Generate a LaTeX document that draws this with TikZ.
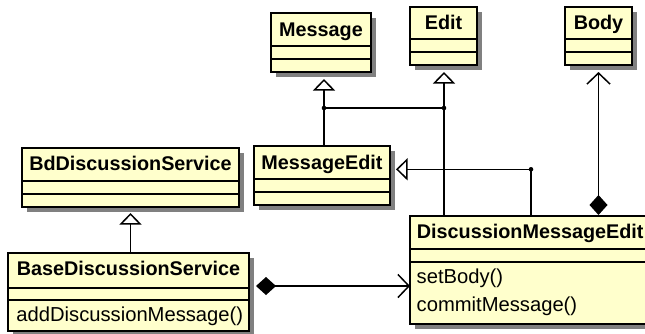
\documentclass[tikz,border=0pt]{standalone}
\usepackage{fontspec}
\setmainfont{Liberation Sans}
\usetikzlibrary{arrows.meta,shadows}
\definecolor{umlfill}{RGB}{255,255,204}
\definecolor{umlshadow}{RGB}{128,128,128}
\tikzset{
  classfill/.style={fill=umlfill, inner sep=0pt, outer sep=0pt,
    drop shadow={shadow xshift=5pt, shadow yshift=-5pt, fill=umlshadow, opacity=1}},
  classbox/.style={classfill, draw=black, line width=1.6pt},
  border/.style={line width=1.6pt},
  sepline/.style={line width=1.4pt},
  cname/.style={font=\bfseries\fontsize{19.8}{24}\selectfont, inner sep=0pt, anchor=base},
  cop/.style={font=\fontsize{20.2}{24}\selectfont, inner sep=0pt, anchor=base west},
  conn/.style={line width=1.5pt},
  gen/.style={conn, -{Triangle[width=22pt, length=11.5pt, fill=white]}},
  comp/.style={conn, {Diamond[length=20pt, width=18pt]}-{Straight Barb[length=11pt, width=23pt]}},
  jdot/.style={fill=black},
}
\newcommand\umlclass[7]{%
  \node[classbox, minimum width={(#4-#2)*1pt}, minimum height={(#5-#3)*1pt}]
     (#1) at ({(#2+#4)/2},{(#3+#5)/2}) {};
  \draw[sepline] (#2,#6) -- (#4,#6);
  \draw[sepline] (#2,#7) -- (#4,#7);
}
\begin{document}
\begin{tikzpicture}[x=1pt, y=-1pt]
\useasboundingbox (0,0) rectangle (645,333);
% classes
\umlclass{msg}{271}{13}{371}{72}{46}{59}
\umlclass{edit}{410}{7}{477}{65}{39}{52}
\umlclass{body}{565}{7}{632}{65}{39}{52}
\umlclass{msgedit}{254}{146}{390}{205}{179}{192}
\umlclass{bdds}{22}{148}{239}{207}{181}{194}
\umlclass{baseds}{8}{253}{249}{331}{288}{300}
% DiscussionMessageEdit, cut at the right edge of the picture
\node[classfill, minimum width=240pt, minimum height=108pt] (dme) at (530,270) {};
\draw[border] (dme.north east) -- (dme.north west) -- (dme.south west) -- (dme.south east);
\draw[sepline] (dme.west |- 0,249) -- (dme.east |- 0,249);
\draw[sepline] (dme.west |- 0,262) -- (dme.east |- 0,262);
% names
\node[cname] (msgT) at (321,36) {Message};
\node[cname] (editT) at (443.5,29.3) {Edit};
\node[cname] (bodyT) at (598.5,29.3) {Body};
\node[cname] (msgeditT) at (322,169.3) {MessageEdit};
\node[cname] (bddsT) at (130.5,170.7) {BdDiscussionService};
\node[cname] (basedsT) at (128.5,275.7) {BaseDiscussionService};
\node[cname, anchor=base west] (dmeT) at (416.7,238.3) {DiscussionMessageEdit};
% operations
\node[cop] (op1) at (16.2,321.2) {addDiscussionMessage()};
\node[cop] (op2) at (416.5,283) {setBody()};
\node[cop] (op3) at (416.5,311.7) {commitMessage()};
% junctions
\coordinate (jA) at (324,108);
\coordinate (jB) at (444,108);
\coordinate (jC) at (531,169.3);
\coordinate (jD) at (0,286);
% generalizations
\draw[conn] (msgedit.north -| jA) -- (jA);
\draw[gen, shorten >=7pt] (jA) -- (jA |- msg.south);
\draw[conn] (jA) -- (jB);
\draw[gen, shorten >=7pt] (dme.north -| jB) -- (jB |- edit.south);
\draw[gen, shorten >=6pt] (dme.north -| jC) -- (jC) -- (msgedit.east |- jC);
\draw[gen, shorten >=6pt] (baseds.north -| bdds.south) -- (bdds.south);
\fill[jdot] (jA) circle (2.3pt);
\fill[jdot] (jB) circle (2.3pt);
\fill[jdot] (jC) circle (2.3pt);
% compositions
\draw[comp, shorten >=7pt] ([yshift=1pt]dme.north -| body.south) -- (body.south);
\draw[comp, shorten <=7pt] (baseds.east |- jD) -- (dme.west |- jD);
\end{tikzpicture}
\end{document}
